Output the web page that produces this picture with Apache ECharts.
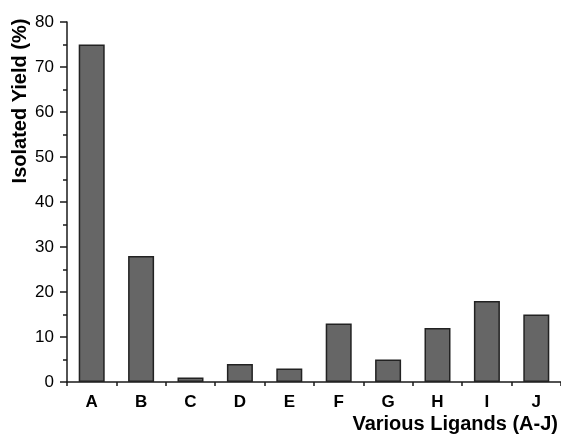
<!DOCTYPE html>
<html>
<head>
<meta charset="utf-8">
<script src="https://cdn.jsdelivr.net/npm/echarts@6/dist/echarts.min.js"></script>
<style>
html,body{margin:0;padding:0;background:#fff;}
#c{width:561px;height:434px;}
</style>
</head>
<body>
<div id="c"></div>
<script>
var categories = ['A','B','C','D','E','F','G','H','I','J'];
var yields = [75, 28, 1, 4, 3, 13, 5, 12, 18, 15];
var yTitle = 'Isolated Yield (%)';
var xTitle = 'Various Ligands (A-J)';

var chart = echarts.init(document.getElementById('c'), null, {renderer:'canvas'});
var font = 'Liberation Sans, Arial, sans-serif';
chart.setOption({
  animation: false,
  backgroundColor: '#fff',
  grid: {left: 67, right: -1, top: 22, bottom: 52},
  xAxis: [{
    type: 'category',
    data: categories,
    position: 'bottom',
    axisLine: {lineStyle: {color: '#1a1a1a', width: 1.5}},
    axisTick: {alignWithLabel: true, length: 7, lineStyle: {color: '#1a1a1a', width: 1.5}},
    axisLabel: {margin: 12, color: '#000', fontSize: 17, fontWeight: 'bold', fontFamily: font},
    splitLine: {show: false}
  }, {
    type: 'category',
    data: categories,
    position: 'bottom',
    axisLine: {show: false},
    axisTick: {show: true, length: 4, lineStyle: {color: '#1a1a1a', width: 1.5}},
    axisLabel: {show: false},
    splitLine: {show: false}
  }],
  yAxis: {
    type: 'value',
    min: 0, max: 80, interval: 10,
    axisLine: {show: true, lineStyle: {color: '#1a1a1a', width: 1.5}},
    axisTick: {show: true, length: 7, lineStyle: {color: '#1a1a1a', width: 1.5}},
    minorTick: {show: true, splitNumber: 2, length: 4, lineStyle: {color: '#1a1a1a', width: 1.5}},
    axisLabel: {margin: 13, color: '#000', fontSize: 17, fontFamily: font},
    splitLine: {show: false}
  },
  graphic: [{
    type: 'text',
    x: 20, y: 101,
    rotation: Math.PI / 2,
    style: {text: yTitle, fill: '#000', font: 'bold 20px ' + font, textAlign: 'center', textVerticalAlign: 'middle'}
  }, {
    type: 'text',
    right: 3, top: 414,
    style: {text: xTitle, fill: '#000', font: 'bold 20px ' + font}
  }],
  series: [{
    type: 'bar',
    xAxisIndex: 0,
    data: yields,
    barWidth: 26,
    itemStyle: {color: '#666666', borderColor: '#222', borderWidth: 1.5}
  }]
});
</script>
</body>
</html>
